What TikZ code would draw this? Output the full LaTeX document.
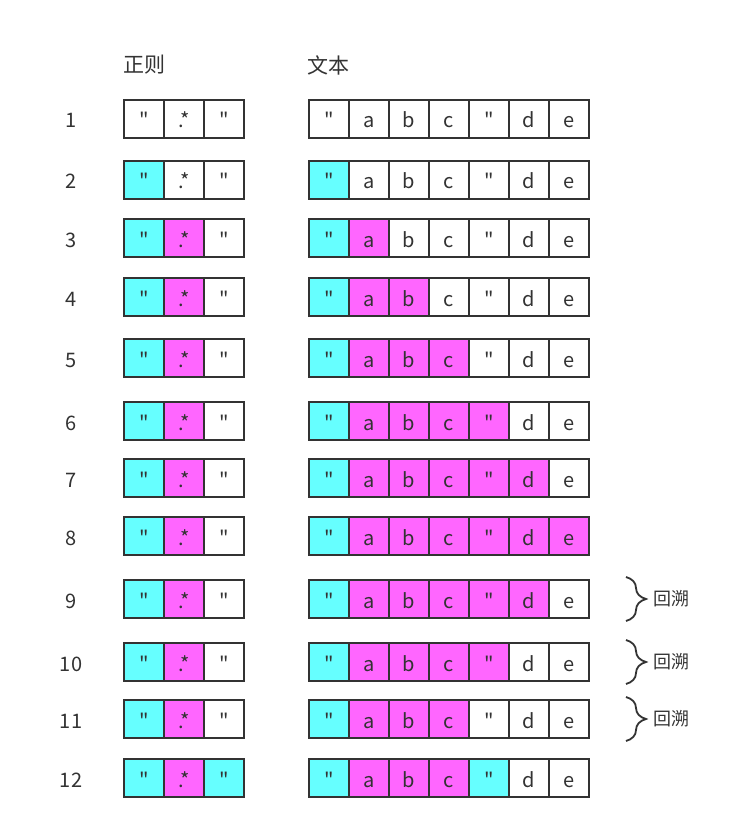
\documentclass[tikz,border=0pt]{standalone}
\usepackage{fontspec}
\newfontfamily\cjkf{Noto Sans CJK SC}
\usetikzlibrary{decorations.pathreplacing}
\definecolor{cy}{HTML}{66FFFF}
\definecolor{mg}{HTML}{FF66FF}
\definecolor{ln}{HTML}{333333}
\begin{document}
\begin{tikzpicture}[x=1pt,y=1pt,
  cell/.style={draw=ln, line width=2pt, minimum width=40pt, minimum height=38pt,
    inner sep=0pt, text height=18pt, text depth=0pt, text=ln,
    font=\cjkf\fontsize{20}{24}\selectfont},
  num/.style={inner sep=0pt, text height=18pt, text depth=0pt, text=ln,
    font=\cjkf\fontsize{20}{24}\selectfont},
  head/.style={inner sep=0pt, text=ln, font=\cjkf\fontsize{21}{24}\selectfont},
  bt/.style={inner sep=0pt, text=ln, font=\cjkf\fontsize{18}{22}\selectfont, anchor=west},
  br/.style={draw=ln, line width=1.8pt, decorate,
    decoration={brace, amplitude=20pt}}]
\useasboundingbox[fill=white] (0,0) rectangle (748,-829);
\node[head] (h1) at (144,-65) {正则};
\node[head] (h2) at (328,-65) {文本};
\foreach \r/\y/\ra/\rb/\rc/\ta/\tb/\tc/\td/\te/\tf/\tg in {
  1/119/white/white/white/white/white/white/white/white/white/white,
  2/180/cy/white/white/cy/white/white/white/white/white/white,
  3/238/cy/mg/white/cy/mg/white/white/white/white/white,
  4/297/cy/mg/white/cy/mg/mg/white/white/white/white,
  5/358/cy/mg/white/cy/mg/mg/mg/white/white/white,
  6/421/cy/mg/white/cy/mg/mg/mg/mg/white/white,
  7/478/cy/mg/white/cy/mg/mg/mg/mg/mg/white,
  8/536/cy/mg/white/cy/mg/mg/mg/mg/mg/mg,
  9/599/cy/mg/white/cy/mg/mg/mg/mg/mg/white,
  10/662/cy/mg/white/cy/mg/mg/mg/mg/white/white,
  11/719/cy/mg/white/cy/mg/mg/mg/white/white/white,
  12/778/cy/mg/cy/cy/mg/mg/mg/cy/white/white}{
  \node[num] (n\r) at (71,-\y) {\r};
  \node[cell, fill=\ra] (r\r-1) at (144,-\y) {"};
  \node[cell, fill=\rb] (r\r-2) at (184,-\y) {.*};
  \node[cell, fill=\rc] (r\r-3) at (224,-\y) {"};
  \node[cell, fill=\ta] (t\r-1) at (329,-\y) {"};
  \node[cell, fill=\tb] (t\r-2) at (369,-\y) {a};
  \node[cell, fill=\tc] (t\r-3) at (409,-\y) {b};
  \node[cell, fill=\td] (t\r-4) at (449,-\y) {c};
  \node[cell, fill=\te] (t\r-5) at (489,-\y) {"};
  \node[cell, fill=\tf] (t\r-6) at (529,-\y) {d};
  \node[cell, fill=\tg] (t\r-7) at (569,-\y) {e};
}
\foreach \r/\y in {9/599,10/662,11/719}{
  \coordinate (bt\r) at (626,-\y+22);
  \coordinate (bb\r) at (626,-\y-22);
  \draw[br] (bt\r) -- (bb\r);
  \node[bt] (lb\r) at (653,-\y) {回溯};
}
\end{tikzpicture}
\end{document}
